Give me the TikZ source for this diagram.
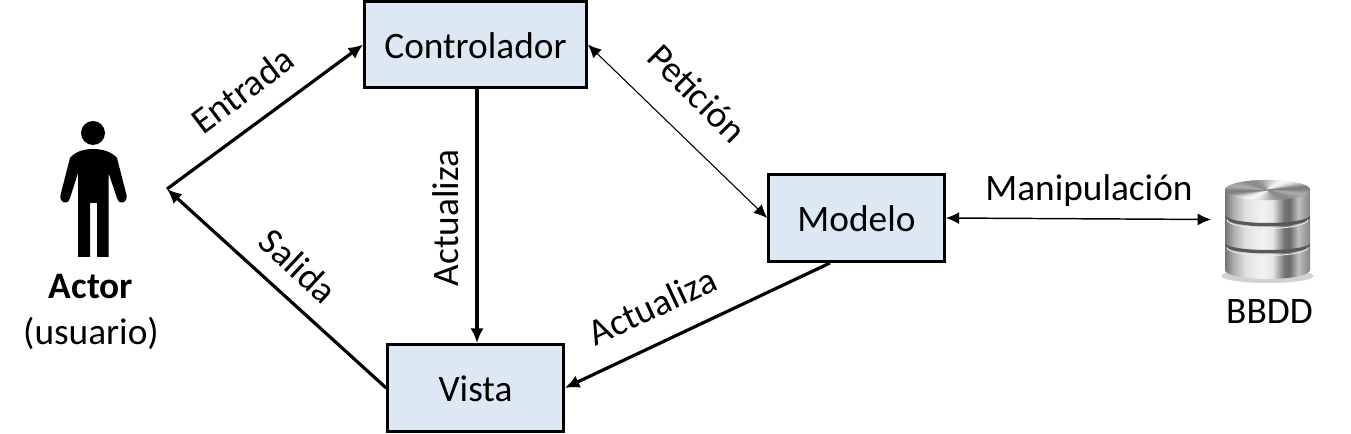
\documentclass[tikz,border=0pt]{standalone}
\usepackage{fontspec}
\setmainfont{Carlito}
\usetikzlibrary{arrows.meta}
\definecolor{boxfill}{HTML}{DEE8F4}
\pgfdeclarehorizontalshading{metal}{100bp}{
  color(0bp)=(black!55); color(25bp)=(black!55); color(30bp)=(black!32); color(37bp)=(black!12);
  color(47bp)=(black!5); color(53bp)=(black!10); color(60bp)=(black!55); color(63bp)=(black!58); color(68bp)=(black!25); color(75bp)=(black!48); color(100bp)=(black!48)}
\tikzset{
  x=0.75pt,y=-0.75pt,
  txt/.style={font=\fontsize{28pt}{30pt}\selectfont,inner sep=0pt,text=black},
  mvc/.style={draw=black,line width=2.2pt,fill=boxfill,inner sep=0pt,txt,text height=22.4pt,text depth=2pt},
  flow/.style={line width=2.4pt,-{Latex[length=11pt,width=10pt]}},
  thinflow/.style={line width=0.8pt,{Latex[length=10pt,width=9pt]}-{Latex[length=10pt,width=9pt]}},
  medflow/.style={line width=1.1pt,{Latex[length=10pt,width=9pt]}-{Latex[length=10pt,width=9pt]}},
  disk/.style={shading=metal,draw=none}
}
\begin{document}
\begin{tikzpicture}
\useasboundingbox (0,0) rectangle (1351,434);
% boxes
\node[mvc,minimum width=167.25pt-1pt,minimum height=65.25pt-1pt] (ctrl) at (475.5,44.5) {Controlador};
\node[mvc,minimum width=132.75pt-1pt,minimum height=66pt-1pt] (vista) at (475.5,388) {Vista};
\node[mvc,minimum width=132.75pt-1pt,minimum height=66pt-1pt] (modelo) at (856.5,218) {Modelo};
% free ends
\coordinate (actorpt) at (167,189);
\coordinate (ctrlb) at (477,89);
\coordinate (vistat) at (477,343);
\coordinate (modelob) at (830,263);
\coordinate (dbpt) at (1211,219.5);
% connectors
\draw[flow] (actorpt) -- (ctrl.west);
\draw[flow] (vista.west) -- (actorpt);
\draw[flow] (ctrlb) -- (vistat);
\draw[thinflow] (ctrl.east) -- (modelo.west);
\draw[flow] (modelob) -- (vista.east);
\draw[medflow] (modelo.east) -- (dbpt);
% labels
\node[txt,rotate=37] (lentrada) at (242.5,90) {Entrada};
\node[txt,rotate=-45] (lpeticion) at (697,93) {Petición};
\node[txt,rotate=-43] (lsalida) at (298.5,266) {Salida};
\node[txt,rotate=90] (lact1) at (446,218) {Actualiza};
\node[txt,rotate=25] (lact2) at (652,306) {Actualiza};
\node[txt] (lmanip) at (1089,190.5) {Manipulación};
\node[txt] (lactor) at (91,287) {\bfseries Actor};
\node[txt] (lusuario) at (91,333) {(usuario)};
\node[txt] (lbbdd) at (1269.5,312) {BBDD};
% person
\fill[black] (93,133) circle[radius=12];
\fill[black] (93,149) .. controls (83,149) and (75,152) .. (70,158)
 -- (60.5,195) .. controls (59,202) and (67,207) .. (70,198)
 -- (78,173) -- (78,257) -- (90,257) -- (90,203) -- (97,203) -- (97,257) -- (108.5,257) -- (108.5,173)
 -- (117,198) .. controls (120,207) and (128,202) .. (126.5,195)
 -- (117,158) .. controls (112,152) and (103,149) .. (93,149) -- cycle;
% database
\fill[black!18] (1267.5,276) ellipse[x radius=46,y radius=7];
\foreach \t/\b/\r in {247/270/9,218/243/7,190/215/8}{
  \path[disk] (1225,\t) -- (1225,\b) arc[start angle=180,end angle=0,x radius=42.5,y radius=\r] -- (1310,\t)
    arc[start angle=0,end angle=-180,x radius=42.5,y radius=9] -- cycle;
}
% dark gaps and rims between the disks
\foreach \b/\r in {243/7,215/8}{
  \fill[black!65] (1225,\b) arc[start angle=180,end angle=0,x radius=42.5,y radius=\r]
    -- (1310,\b+2.5) arc[start angle=0,end angle=180,x radius=42.5,y radius=\r+1] -- cycle;
  \draw[black!8,line width=0.7pt] (1227,\b+4.5) arc[start angle=180,end angle=0,x radius=40.5,y radius=\r+1];
}
% conical top of the upper disk
\foreach \a in {0,5,...,355}{
  \pgfmathsetmacro{\gv}{int(33+15*cos(2*(\a-20))-14*cos(4*(\a-25)))}
  \fill[black!\gv,draw=black!\gv,line width=0.2pt] (1267.5,190) -- ({1267.5+42.5*cos(\a)},{190+10*sin(\a)}) -- ({1267.5+42.5*cos(\a+5)},{190+10*sin(\a+5)}) -- cycle;
}
\end{tikzpicture}
\end{document}
